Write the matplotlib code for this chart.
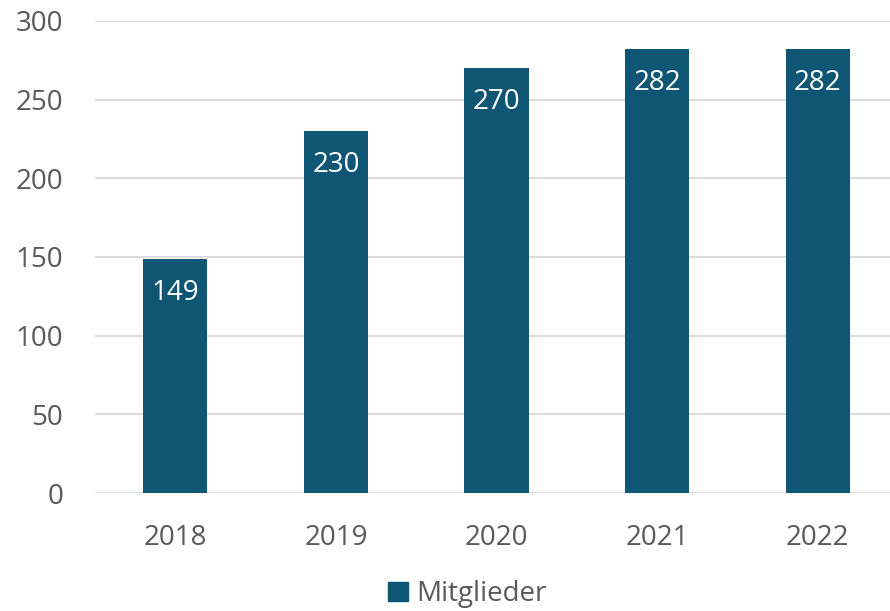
import matplotlib
matplotlib.use('Agg')
import matplotlib.pyplot as plt
from matplotlib.patches import Patch

years = ['2018', '2019', '2020', '2021', '2022']
members = [149, 230, 270, 282, 282]
series_name = 'Mitglieder'

BAR = '#0F5675'
TXT = '#595959'
GRID = '#D9D9D9'

plt.rcParams['font.family'] = ['Open Sans', 'DejaVu Sans']

fig = plt.figure(figsize=(8.9, 6.11), dpi=100)
ax = fig.add_axes([95 / 890, 1 - 493 / 611, 1 - 95 / 890, 472 / 611])

x = range(len(years))
bars = ax.bar(x, members, width=0.4, color=BAR, zorder=3)

for b, v in zip(bars, members):
    ax.annotate(str(v), (b.get_x() + b.get_width() / 2, v),
                xytext=(0, -34), textcoords='offset pixels',
                ha='center', va='center', color='white', fontsize=20)

ax.set_ylim(0, 300)
ax.set_xlim(-0.5, 4.45)
ax.set_yticks(range(0, 301, 50))
ax.set_xticks(list(x))
ax.set_xticklabels(years)
ax.grid(True, axis='y', color=GRID, linewidth=1.3, zorder=0)
for s in ax.spines.values():
    s.set_visible(False)
ax.tick_params(length=0, labelsize=20, labelcolor=TXT)
ax.tick_params(axis='y', pad=23)
ax.tick_params(axis='x', pad=22)

fig.legend(handles=[Patch(color=BAR, label=series_name)],
           loc='center', bbox_to_anchor=(0.525, 1 - 594 / 611),
           frameon=False, fontsize=20, labelcolor=TXT,
           handlelength=0.7, handleheight=0.7, handletextpad=0.3)

fig.savefig('out.png', dpi=100, facecolor='white')
